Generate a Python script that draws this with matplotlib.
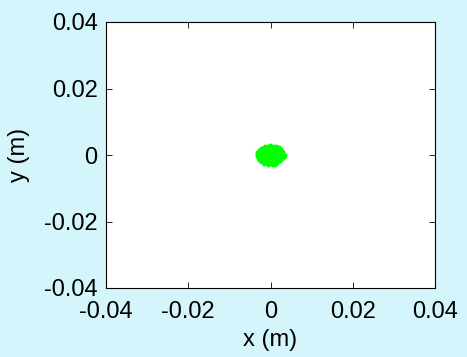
import matplotlib
matplotlib.use("Agg")
import matplotlib.pyplot as plt

# Cluster of positions (mm)
x_mm = [-1.4, -0.5, 0.5, 1.3, 2.1,
        -2.3, -1.6, -0.8, 0.0, 0.9, 1.7, 2.5,
        -2.8, -2.1, -1.3, -0.4, 0.5, 1.2, 2.1, 2.9,
        -3.2, -2.5, -1.7, -0.9, -0.1, 0.8, 1.6, 2.4, 3.1,
        -3.3, -2.6, -1.8, -1.1, -0.3, 0.6, 1.4, 2.2, 3.0, 3.5,
        -3.4, -2.4, -1.6, -0.8, 0.1, 0.9, 1.7, 2.5, 3.3,
        -3.1, -2.3, -1.5, -0.7, 0.2, 1.0, 1.8, 2.6, 3.2,
        -2.8, -2.0, -1.2, -0.4, 0.5, 1.3, 2.1, 2.8,
        -2.3, -1.5, -0.7, 0.1, 0.9, 1.7, 2.4,
        -1.6, -0.8, 0.0, 0.8, 1.6,
        -0.5, 0.6, 1.2, -2.9, 3.4, -0.2]
y_mm = [2.7, 2.8, 2.6, 2.7, 2.4,
        2.1, 2.3, 2.2, 2.3, 2.1, 2.2, 1.9,
        1.5, 1.6, 1.7, 1.6, 1.5, 1.7, 1.6, 1.3,
        1.0, 1.1, 0.9, 1.0, 1.1, 0.9, 1.0, 1.1, 0.8,
        0.4, 0.3, 0.5, 0.4, 0.3, 0.5, 0.4, 0.3, 0.4, 0.1,
        -0.2, -0.1, -0.3, -0.2, -0.1, -0.3, -0.2, -0.1, -0.3,
        -0.8, -0.9, -0.7, -0.8, -0.9, -0.7, -0.8, -0.9, -0.7,
        -1.4, -1.3, -1.5, -1.4, -1.3, -1.5, -1.4, -1.3,
        -2.0, -2.1, -1.9, -2.0, -2.1, -1.9, -1.8,
        -2.6, -2.5, -2.7, -2.6, -2.4,
        -3.0, -2.9, -2.9, 0.7, -0.5, 3.0]

x_m = [v * 1e-3 for v in x_mm]
y_m = [v * 1e-3 for v in y_mm]

ticks = [-0.04, -0.02, 0, 0.02, 0.04]
tick_labels = ["-0.04", "-0.02", "0", "0.02", "0.04"]

plt.rcParams['font.family'] = ['Liberation Sans', 'DejaVu Sans']
bg = '#D4F5FB'
fig = plt.figure(figsize=(4.67, 3.57), dpi=100, facecolor=bg)
ax = fig.add_axes([106/467, 1 - 288/357, (435-106)/467, (288-22)/357])
ax.set_facecolor('white')
ax.plot(x_m, y_m, linestyle='none', marker='o', markersize=2.9,
        markeredgewidth=0, color='#00FF00')
ax.set_xlim(-0.04, 0.04)
ax.set_ylim(-0.04, 0.04)
ax.set_xticks(ticks)
ax.set_xticklabels(tick_labels)
ax.set_yticks(ticks)
ax.set_yticklabels(tick_labels)
ax.tick_params(direction='in', length=4, width=0.6, top=True, right=True,
               labelsize=17, colors='black')
ax.tick_params(axis='x', pad=9)
ax.tick_params(axis='y', pad=6)
for s in ax.spines.values():
    s.set_linewidth(0.8)
ax.set_xlabel('x (m)', fontsize=17, labelpad=5)
ax.set_ylabel('y (m)', fontsize=17, labelpad=10)
fig.savefig('out.png', dpi=100, facecolor=bg)
